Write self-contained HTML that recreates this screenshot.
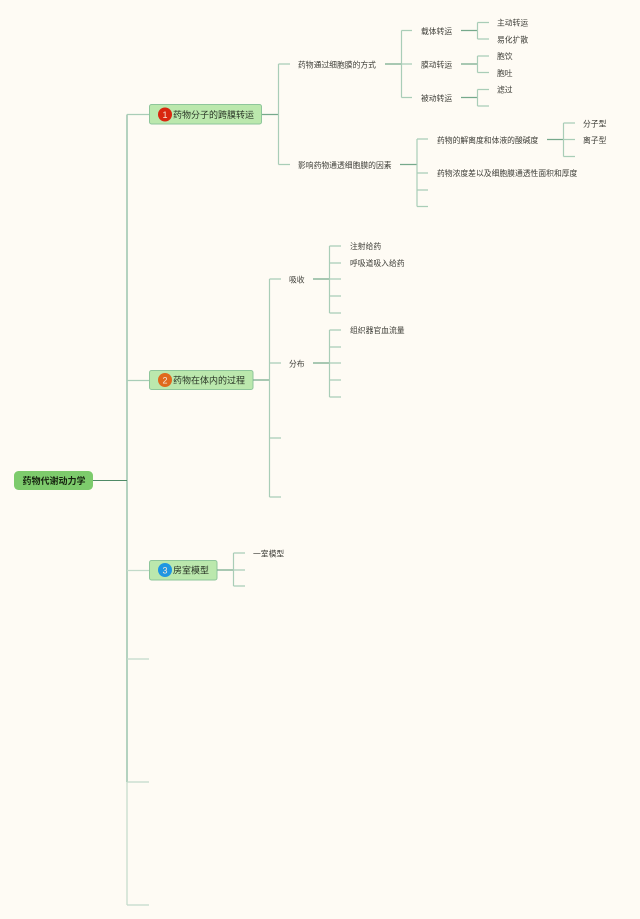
<!DOCTYPE html>
<html lang="zh">
<head>
<meta charset="utf-8">
<title>药物代谢动力学</title>
<style>
html,body{margin:0;padding:0;background:#fefbf4;}
svg{display:block;}
text{font-family:"Liberation Sans","Noto Sans CJK SC",sans-serif;font-size:7.8px;fill:#3c3c36;dominant-baseline:central;}
.n{font-size:9px;fill:#2a3526;}
.r{font-size:9px;font-weight:bold;fill:#16240f;}
.i{font-size:9px;fill:#f5e6d8;text-anchor:middle;}
.l{fill:none;stroke:#a9cdb7;stroke-width:1.2;}
.d{fill:none;stroke:#76a98b;stroke-width:1.2;}
.t{fill:none;stroke:#9cc5ad;stroke-width:1.5;}
.s{fill:none;stroke:#c2dac9;stroke-width:1.2;}
.soft{filter:blur(0.3px);}
</style>
</head>
<body>
<svg width="640" height="919" viewBox="0 0 640 919" xmlns="http://www.w3.org/2000/svg">
<rect width="640" height="919" fill="#fefbf4"/>
<g class="soft">
<!-- trunk -->
<path class="t" d="M127 114.5V782"/>
<path class="s" d="M127 782V905"/>
<path d="M93 480.5H127" fill="none" stroke="#4f8a66" stroke-width="1.1"/>
<path class="l" d="M127 114.5H149"/>
<path class="l" d="M127 380.5H149"/>
<path class="s" d="M127 570.5H149M127 659H149M127 782H149M127 905H149"/>

<!-- root -->
<rect x="14" y="471" width="79" height="19" rx="4.5" fill="#7dcb6c"/>
<text class="r" x="22.5" y="481">药物代谢动力学</text>

<!-- node 1 -->
<rect x="149.5" y="104.5" width="112" height="19.5" rx="2" fill="#bbe8ad" stroke="#8ec69a"/>
<circle cx="165" cy="114.5" r="7" fill="#d9270f"/>
<text class="i" x="165" y="115">1</text>
<text class="n" x="173" y="115">药物分子的跨膜转运</text>
<path class="d" d="M262 114.5H279"/>
<path class="l" d="M278.5 64V164.5M278.5 64H290M278.5 164.5H290"/>
<text x="298" y="65">药物通过细胞膜的方式</text>
<text x="298" y="165.5">影响药物通透细胞膜的因素</text>

<path class="d" d="M385 64H402"/>
<path class="l" d="M401.5 30.5V97.5M401.5 30.5H412M401.5 64H412M401.5 97.5H412"/>
<text x="421" y="31.5">载体转运</text>
<text x="421" y="65">膜动转运</text>
<text x="421" y="98.5">被动转运</text>

<path class="d" d="M461 30.5H478M461 64H478M461 97.5H478"/>
<path class="l" d="M477.5 22.5V39M477.5 22.5H489M477.5 39H489"/>
<path class="l" d="M477.5 56V72.5M477.5 56H489M477.5 72.5H489"/>
<path class="l" d="M477.5 89.5V106M477.5 89.5H489M477.5 106H489"/>
<text x="497" y="23">主动转运</text>
<text x="497" y="40">易化扩散</text>
<text x="497" y="56.5">胞饮</text>
<text x="497" y="73.5">胞吐</text>
<text x="497" y="90">滤过</text>

<path class="d" d="M400 164.5H417"/>
<path class="l" d="M417 139V206.5M417 139H428M417 173H428M417 190H428M417 206.5H428"/>
<text x="437" y="140.5">药物的解离度和体液的酸碱度</text>
<text x="437" y="173.5">药物浓度差以及细胞膜通透性面积和厚度</text>

<path class="d" d="M547 139.5H564"/>
<path class="l" d="M563.5 123V156.5M563.5 123H575M563.5 139.5H575M563.5 156.5H575"/>
<text x="583" y="124">分子型</text>
<text x="583" y="140.5">离子型</text>

<!-- node 2 -->
<rect x="149.5" y="370.5" width="103.5" height="19" rx="2" fill="#bbe8ad" stroke="#8ec69a"/>
<circle cx="165" cy="380" r="7" fill="#e0691c"/>
<text class="i" x="165" y="380.5">2</text>
<text class="n" x="173" y="380.5">药物在体内的过程</text>
<path class="d" d="M253 380H270"/>
<path class="l" d="M269.5 279V497M269.5 279H281M269.5 363H281M269.5 438H281M269.5 497H281"/>
<text x="289" y="280">吸收</text>
<text x="289" y="364">分布</text>

<path class="d" d="M313 279H330M313 363H330"/>
<path class="l" d="M329.5 246V313M329.5 246H341M329.5 263H341M329.5 279H341M329.5 296H341M329.5 313H341"/>
<path class="l" d="M329.5 330V397M329.5 330H341M329.5 347H341M329.5 363H341M329.5 380H341M329.5 397H341"/>
<text x="350" y="246.5">注射给药</text>
<text x="350" y="263.5">呼吸道吸入给药</text>
<text x="350" y="330.5">组织器官血流量</text>

<!-- node 3 -->
<rect x="149.5" y="560.5" width="67.5" height="19.5" rx="2" fill="#bbe8ad" stroke="#8ec69a"/>
<circle cx="165" cy="570" r="7" fill="#1f96e2"/>
<text class="i" x="165" y="570.5">3</text>
<text class="n" x="173" y="570.5">房室模型</text>
<path class="d" d="M217 570H234"/>
<path class="l" d="M233.5 553V586M233.5 553H245M233.5 570H245M233.5 586H245"/>
<text x="253" y="554">一室模型</text>
</g>
</svg>
</body>
</html>
